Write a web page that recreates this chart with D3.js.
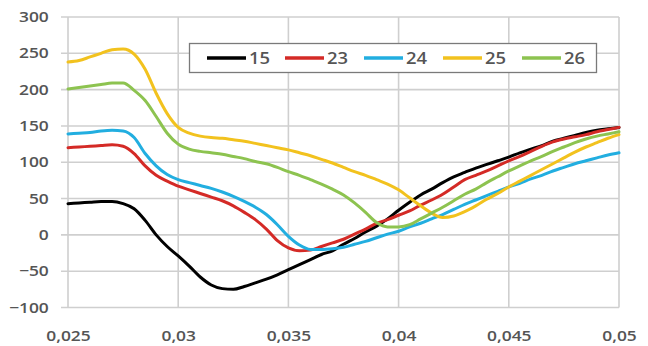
<!DOCTYPE html>
<html><head><meta charset="utf-8">
<script src="https://cdn.jsdelivr.net/npm/d3@7"></script>
<style>
html,body{margin:0;padding:0;background:#fff;}
svg{display:block;}
text{font-family:"Open Sans",sans-serif;}
</style></head>
<body>
<svg id="chart" width="648" height="346"></svg>
<script>
const xValues = [0.025,0.0255,0.026,0.0265,0.027,0.0275,0.028,0.0285,0.029,0.0295,
  0.030,0.0305,0.031,0.0315,0.032,0.0325,0.033,0.0335,0.034,0.0345,
  0.035,0.0355,0.036,0.0365,0.037,0.0375,0.038,0.0385,0.039,0.0395,
  0.040,0.0405,0.041,0.0415,0.042,0.0425,0.043,0.0435,0.044,0.0445,
  0.045,0.0455,0.046,0.0465,0.047,0.0475,0.048,0.0485,0.049,0.0495,0.050];
const seriesNames = ["15","23","24","25","26"];
const s15 = [43,44,45,46,46,43,36,20,0,-16,
  -29,-43,-58,-69,-74,-75,-71,-66,-61,-55,
  -48,-41,-34,-27,-22,-13,-5,4,12,22,
  34,45,55,63,72,80,86,92,97,102,
  107,113,118,123,129,133,137,141,144,146,148];
const s23 = [120,121,122,123,124,122,112,95,82,74,
  67,62,57,52,47,40,31,21,8,-8,
  -18,-22,-21,-16,-11,-6,1,8,16,21,
  27,33,41,48,56,66,76,82,88,95,
  102,108,115,122,128,132,135,138,142,145,148];
const s24 = [139,140,141,143,144,143,134,112,95,83,
  76,72,68,64,59,53,46,38,28,14,
  -2,-14,-20,-20,-19,-17,-13,-9,-4,1,
  5,11,16,22,28,35,42,48,54,60,
  66,71,77,82,88,93,98,102,106,110,113];
const s25 = [238,240,245,250,255,256,249,228,195,167,
  148,140,136,134,133,131,129,126,123,120,
  117,113,109,104,99,93,87,82,76,70,
  62,51,40,30,24,26,32,40,49,57,
  66,74,82,90,98,106,114,121,127,133,138];
const s26 = [201,203,205,207,209,209,199,185,163,140,
  125,118,115,113,111,108,105,101,98,93,
  87,82,76,70,63,55,44,31,17,11,
  11,14,22,30,38,47,56,63,72,80,
  88,95,102,108,115,121,127,132,136,139,142];
const seriesValues = [s15,s23,s24,s25,s26];
const seriesColors = ["#000000","#d42a26","#22aee0","#f2c21e","#8dc350"];
const yTicks = [-100,-50,0,50,100,150,200,250,300];
const xTicks = [0.025,0.03,0.035,0.04,0.045,0.05];

const svg = d3.select("#chart");
const x = d3.scaleLinear().domain([0.025,0.05]).range([68,619]);
const y = d3.scaleLinear().domain([-100,300]).range([307.5,17]);

// gridlines
const grid = svg.append("g");
grid.selectAll("line.h").data(yTicks).join("line")
  .attr("x1",61).attr("x2",619).attr("y1",d=>y(d)).attr("y2",d=>y(d))
  .attr("stroke","#cfcfcf").attr("stroke-width",1.6);
grid.selectAll("line.v").data(xTicks).join("line")
  .attr("x1",d=>x(d)).attr("x2",d=>x(d)).attr("y1",y(300)).attr("y2",y(-100))
  .attr("stroke","#cfcfcf").attr("stroke-width",1.6);

// axes labels
const yAxis = svg.append("g").attr("transform",`translate(${x(0.025)},0)`)
  .call(d3.axisLeft(y).tickValues(yTicks).tickSize(0).tickPadding(16));
yAxis.select(".domain").remove();
yAxis.selectAll("text").attr("font-size",14.5).attr("fill","#555")
  .attr("font-weight",600).attr("font-family","Open Sans").attr("transform","scale(1.2,1)");

const xAxis = svg.append("g").attr("transform",`translate(0,${y(-100)})`)
  .call(d3.axisBottom(x).tickValues(xTicks).tickSize(0).tickPadding(23)
    .tickFormat(d=>String(+d.toFixed(3)).replace(".",",")));
xAxis.select(".domain").remove();
xAxis.selectAll("text").attr("font-size",14.5).attr("fill","#555")
  .attr("font-weight",600).attr("font-family","Open Sans").attr("transform","scale(1.2,1)");

// lines
const line = d3.line().x((d,i)=>x(xValues[i])).y(d=>y(d)).curve(d3.curveMonotoneX);
svg.append("g").selectAll("path").data(seriesValues).join("path")
  .attr("d",d=>line(d)).attr("fill","none")
  .attr("stroke",(d,i)=>seriesColors[i]).attr("stroke-width",3)
  .attr("stroke-linejoin","round").attr("stroke-linecap","round");

// legend
const lg = svg.append("g");
lg.append("rect").attr("x",189.5).attr("y",43.5).attr("width",407).attr("height",29)
  .attr("fill","#fff").attr("stroke","#7a7a7a").attr("stroke-width",1.3);
const legX = [207,285,364,443,522];
seriesNames.forEach((n,i)=>{
  lg.append("line").attr("x1",legX[i]).attr("x2",legX[i]+39).attr("y1",58).attr("y2",58)
    .attr("stroke",seriesColors[i]).attr("stroke-width",3.5);
  lg.append("text").attr("x",0).attr("y",0)
    .attr("transform",`translate(${legX[i]+42},64) scale(1.15,1)`)
    .attr("font-size",16).attr("font-weight",600).attr("fill","#555").text(n);
});
</script>
</body></html>
